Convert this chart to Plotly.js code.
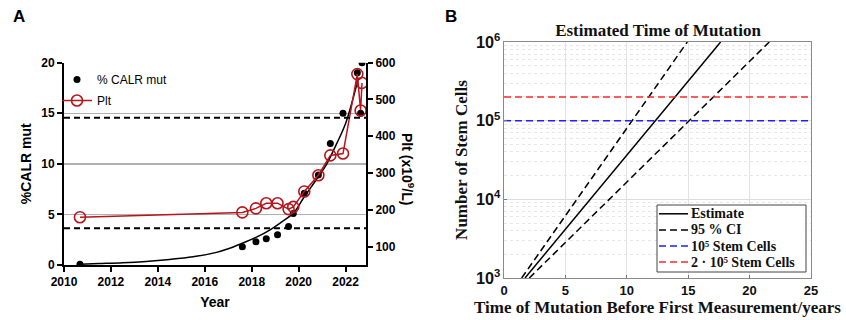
<!DOCTYPE html>
<html><head><meta charset="utf-8">
<script src="https://cdn.plot.ly/plotly-3.0.1.min.js"></script>
<style>html,body{margin:0;padding:0;background:#fff}#chart{width:846px;height:320px}</style>
</head><body><div id="chart"></div>
<script>
// ---------- Panel A data ----------
const years    = [2010.68, 2017.6, 2018.18, 2018.62, 2019.1, 2019.57, 2019.77, 2020.24, 2020.84, 2021.35, 2021.89, 2022.5, 2022.64, 2022.7];
const calrMut  = [0.07, 1.8, 2.3, 2.6, 3.0, 3.8, 5.1, 7.1, 8.9, 12.0, 15.0, 19.0, 15.0, 20.0];
const plt      = [180, 193, 204, 218, 218, 202, 208, 250, 294, 348, 353, 569, 470, 545];
const fitYears = [2010.7, 2011.5, 2012.5, 2013.5, 2014.5, 2015.5, 2016.5, 2017.0, 2017.6, 2018.2, 2018.8, 2019.3, 2019.8, 2020.2, 2020.8, 2021.2, 2021.6, 2022.0, 2022.3, 2022.55];
const fitCalr  = [0.08, 0.14, 0.22, 0.35, 0.55, 0.82, 1.25, 1.6, 2.15, 2.75, 3.5, 4.3, 5.2, 6.6, 8.6, 10.0, 11.9, 14.0, 16.3, 18.5];
const pltRefLines = [150, 450];
const yearTicks = [2010, 2012, 2014, 2016, 2018, 2020, 2022];

// ---------- Panel B data ----------
const cellsEnds   = [1e3, 1e6];
const estimateX   = [1.71, 17.64];
const ciUpperX    = [1.44, 14.93];
const ciLowerX    = [2.06, 21.6];
const xLimB       = [0, 25];
const stemThresholds = [1e5, 2e5];
const thresholdNames = ['10\u2075 Stem Cells', '2 \u00b7 10\u2075 Stem Cells'];
const thresholdColors = ['#1f1fff', '#ff2a2a'];

const W = 846, H = 320;
const px = v => v / W, py = v => 1 - v / H;
const SANS = 'Liberation Sans, Arial, sans-serif';
const SERIF = 'Liberation Serif, Times New Roman, serif';
const RED = '#b8141c';
const DASH_B = '7px,4px';

const traces = [
  {x: fitYears, y: fitCalr, xaxis: 'x', yaxis: 'y', mode: 'lines', line: {color: '#000', width: 1.5, shape: 'spline'}, showlegend: false, hoverinfo: 'skip'},
  {x: years, y: calrMut, xaxis: 'x', yaxis: 'y', mode: 'markers', name: '% CALR mut', legendgroup: 'a1',
   marker: {color: '#000', size: 7}},
  {x: years, y: plt, xaxis: 'x', yaxis: 'y2', mode: 'lines+markers', name: 'Plt', legendgroup: 'a2',
   line: {color: RED, width: 1.5}, marker: {symbol: 'circle-open', size: 11, color: RED, line: {width: 1.6, color: RED}}},
  {x: estimateX, y: cellsEnds, xaxis: 'x3', yaxis: 'y3', mode: 'lines', name: 'Estimate', showlegend: false,
   line: {color: '#000', width: 1.5}},
  {x: ciUpperX, y: cellsEnds, xaxis: 'x3', yaxis: 'y3', mode: 'lines', name: '95 % CI', showlegend: false,
   line: {color: '#000', width: 1.5, dash: DASH_B}},
  {x: ciLowerX, y: cellsEnds, xaxis: 'x3', yaxis: 'y3', mode: 'lines', name: '95 % CI', showlegend: false,
   line: {color: '#000', width: 1.5, dash: DASH_B}}
];
stemThresholds.forEach((v, i) => {
  traces.push({x: xLimB, y: [v, v], xaxis: 'x3', yaxis: 'y3', mode: 'lines', name: thresholdNames[i], showlegend: false,
    line: {color: thresholdColors[i], width: 1.5, dash: DASH_B}});
});

// Panel B legend entries (taken from the traces above)
const legendB = [traces[3], traces[4], traces[6], traces[7]].map(t => ({name: t.name, line: t.line}));

const tickFontA = {family: SANS, size: 12, color: '#000', weight: 'bold'};
const tickFontB = {family: SANS, size: 13, color: '#111', weight: 'bold'};

const shapes = pltRefLines.map(v => ({type: 'line', xref: 'x domain', yref: 'y2', x0: 0, x1: 1, y0: v, y1: v,
  line: {color: '#000', width: 2, dash: '6px,4px'}}));
const annotations = [
  {text: '<b>A</b>', xref: 'paper', yref: 'paper', x: px(11), y: py(17), xanchor: 'left', yanchor: 'middle', showarrow: false,
   font: {family: SANS, size: 17, color: '#000'}},
  {text: '<b>B</b>', xref: 'paper', yref: 'paper', x: px(443), y: py(16), xanchor: 'left', yanchor: 'middle', showarrow: false,
   font: {family: SANS, size: 17, color: '#000'}},
  {text: '<b>Plt (x10<sup>9</sup>/L)</b>', xref: 'paper', yref: 'paper', x: px(408), y: py(169), xanchor: 'center', yanchor: 'middle',
   textangle: 90, showarrow: false, font: {family: SANS, size: 14, color: '#000'}}
];

// legend box for panel B
const LB = {x0: 657, x1: 806, y0: 205, y1: 272, row0: 213.8, rowH: 16.1, lx0: 659, lx1: 688, tx: 689};
shapes.push({type: 'rect', xref: 'paper', yref: 'paper', x0: px(LB.x0), x1: px(LB.x1), y0: py(LB.y1), y1: py(LB.y0),
  fillcolor: '#fff', line: {color: '#444', width: 1}, layer: 'above'});
legendB.forEach((e, i) => {
  const yy = LB.row0 + i * LB.rowH;
  shapes.push({type: 'line', xref: 'paper', yref: 'paper', x0: px(LB.lx0), x1: px(LB.lx1), y0: py(yy), y1: py(yy),
    line: {color: e.line.color, width: 1.5, dash: e.line.dash || 'solid'}, layer: 'above'});
  annotations.push({text: '<b>' + e.name + '</b>', xref: 'paper', yref: 'paper', x: px(LB.tx), y: py(yy), xanchor: 'left', yanchor: 'middle',
    showarrow: false, font: {family: SERIF, size: 14, color: '#111'}});
});

const layout = {
  width: W, height: H,
  margin: {l: 0, r: 0, t: 0, b: 0},
  paper_bgcolor: '#fff', plot_bgcolor: 'rgba(0,0,0,0)',
  showlegend: true,
  title: {text: 'Estimated Time of Mutation', x: px(658), xref: 'paper', xanchor: 'center', y: py(30), yref: 'paper', yanchor: 'middle',
    font: {family: SERIF, size: 17, color: '#111', weight: 'bold'}},
  xaxis: {domain: [px(64), px(366)], range: [2010, 2022.87], anchor: 'y', tickvals: yearTicks,
    ticks: 'outside', ticklen: 5, tickwidth: 2, tickcolor: '#000', showline: true, linecolor: '#000', linewidth: 2,
    showgrid: false, zeroline: false, tickfont: tickFontA,
    title: {text: 'Year', font: {family: SANS, size: 14, color: '#000', weight: 'bold'}, standoff: 9}},
  yaxis: {domain: [py(265), py(62.7)], range: [0, 20], dtick: 5, anchor: 'x',
    ticks: 'outside', ticklen: 5, tickwidth: 2, tickcolor: '#000', showline: true, linecolor: '#000', linewidth: 2,
    showgrid: true, gridcolor: '#b0b0b0', gridwidth: 1.5, zeroline: false, tickfont: tickFontA,
    title: {text: '%CALR mut', font: {family: SANS, size: 14, color: '#000', weight: 'bold'}, standoff: 6}},
  yaxis2: {overlaying: 'y', side: 'right', anchor: 'x', range: [50, 600], tick0: 0, dtick: 100,
    ticks: 'outside', ticklen: 5, tickwidth: 2, tickcolor: '#000', showline: true, linecolor: '#000', linewidth: 2,
    showgrid: false, zeroline: false, tickfont: tickFontA},
  xaxis3: {domain: [px(504), px(811)], range: xLimB, dtick: 5, anchor: 'y3',
    ticks: 'inside', ticklen: 3, tickcolor: '#777', showline: true, mirror: true, linecolor: '#8a8a8a', linewidth: 1,
    showgrid: true, gridcolor: '#e3e3e3', gridwidth: 1, zeroline: false, tickfont: tickFontB,
    title: {text: 'Time of Mutation Before First Measurement/years', font: {family: SERIF, size: 17, color: '#111', weight: 'bold'}, standoff: 2}},
  yaxis3: {domain: [py(278), py(42)], type: 'log', range: [3, 6], dtick: 1, exponentformat: 'power', anchor: 'x3',
    ticks: 'inside', ticklen: 3, tickcolor: '#777', showline: true, mirror: true, linecolor: '#8a8a8a', linewidth: 1,
    showgrid: true, gridcolor: '#dcdcdc', gridwidth: 1, zeroline: false, tickfont: tickFontB,
    minor: {showgrid: true, gridcolor: '#e6e6e6', griddash: 'dot', gridwidth: 1},
    title: {text: 'Number of Stem Cells', font: {family: SERIF, size: 17, color: '#111', weight: 'bold'}, standoff: 4}},
  legend: {x: px(57), y: py(65), xanchor: 'left', yanchor: 'top', bgcolor: 'rgba(0,0,0,0)', borderwidth: 0,
    font: {family: SANS, size: 12, color: '#000'}, itemwidth: 30, traceorder: 'grouped', tracegroupgap: 2},
  shapes: shapes,
  annotations: annotations
};

Plotly.newPlot('chart', traces, layout, {displayModeBar: false, staticPlot: true});
</script></body></html>
